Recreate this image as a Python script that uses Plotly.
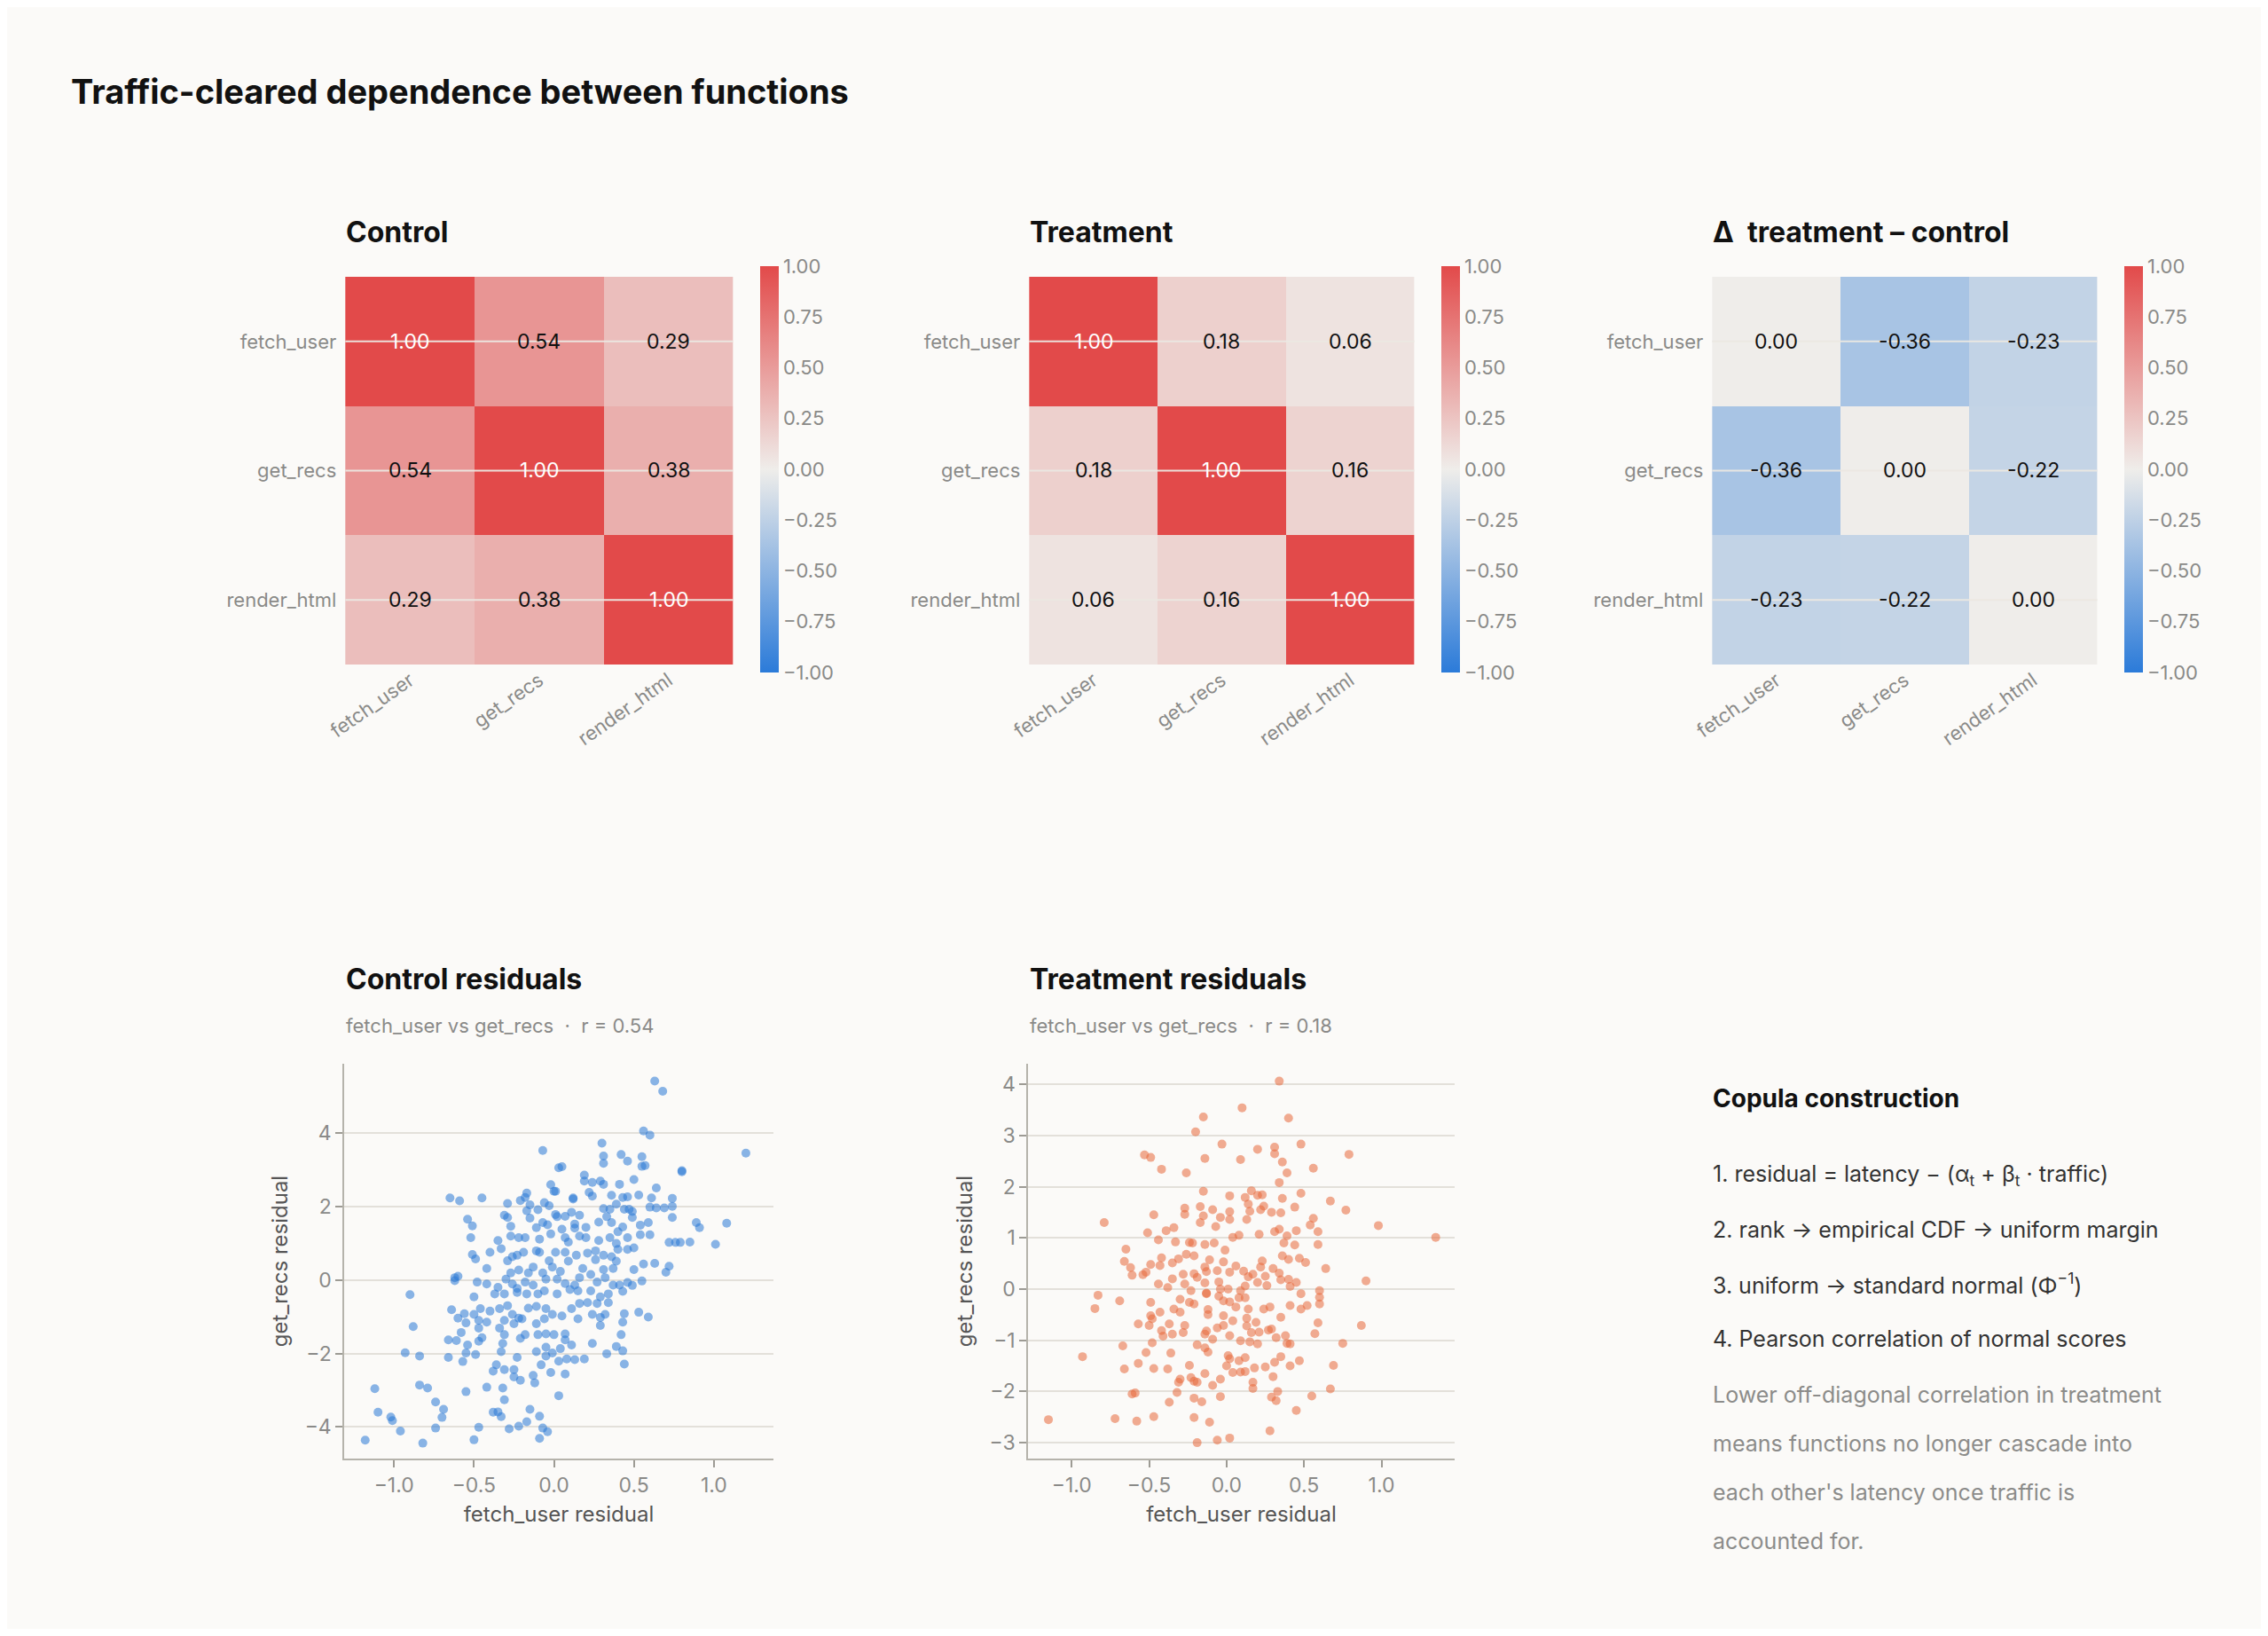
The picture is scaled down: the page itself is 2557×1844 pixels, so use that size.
import plotly.graph_objects as go

# %% data

funcs = ["fetch_user", "get_recs", "render_html"]

corr_control = [
    [1.00, 0.54, 0.29],
    [0.54, 1.00, 0.38],
    [0.29, 0.38, 1.00],
]
corr_treatment = [
    [1.00, 0.18, 0.06],
    [0.18, 1.00, 0.16],
    [0.06, 0.16, 1.00],
]
corr_delta = [
    [0.00, -0.36, -0.23],
    [-0.36, 0.00, -0.22],
    [-0.23, -0.22, 0.00],
]

control_x = [
    0.63, 0.68, 0.56, 0.60, 0.30, -0.07, 1.20, 0.31, 0.31, 0.42, 0.46, 0.55, 0.57, 0.55, 0.03, 0.05,
    0.80, 0.80, 0.50, 0.19, 0.19, 0.24, 0.29, 0.31, 0.41, 0.64, -0.02, 0.00, 0.01, 0.22, 0.24, 0.36,
    0.53, 0.43, 0.46, 0.61, 0.74, -0.65, -0.59, -0.45, -0.17, -0.18, -0.21, -0.15, -0.29, -0.06, -0.03, 0.12,
    0.12, 0.39, 0.60, 0.64, 0.69, 0.74, 0.49, 0.35, 0.31, 0.44, 0.47, 0.49, 0.74, -0.54, -0.51, -0.31,
    -0.29, -0.27, -0.17, -0.15, -0.10, -0.07, -0.04, -0.11, 0.01, 0.02, 0.07, 0.11, 0.16, 0.13, 0.13, 0.20,
    0.05, 0.28, 0.33, 0.36, 0.40, 0.43, 0.46, 0.54, 0.59, 0.54, 0.60, 0.89, 0.91, 1.08, -0.52, -0.35,
    -0.27, -0.22, -0.18, -0.09, -0.02, 0.07, 0.09, 0.16, 0.20, 0.28, 0.35, 0.39, 0.72, 0.76, 0.79, 0.85,
    1.01, -0.33, -0.40, -0.51, -0.49, -0.29, -0.26, -0.23, -0.19, -0.11, -0.09, -0.03, 0.01, 0.07, 0.14, 0.21,
    0.26, 0.31, 0.36, 0.40, 0.46, 0.50, 0.56, 0.63, 0.72, 0.70, 0.50, 0.39, 0.37, 0.31, 0.26, 0.18,
    0.09, 0.04, -0.01, -0.07, -0.13, -0.16, -0.22, -0.27, -0.42, -0.62, -0.60, -0.62, -0.48, -0.42, -0.35, -0.30,
    -0.26, -0.23, -0.18, -0.13, -0.05, 0.02, 0.07, 0.13, 0.16, 0.23, 0.27, 0.32, 0.37, 0.41, 0.46, 0.49,
    0.55, 0.43, 0.34, 0.29, 0.23, 0.15, 0.10, 0.02, -0.06, -0.10, -0.17, -0.23, -0.31, -0.37, -0.50, -0.90,
    -0.64, -0.56, -0.60, -0.46, -0.40, -0.34, -0.29, -0.26, -0.22, -0.16, -0.11, -0.05, -0.01, 0.05, 0.11, 0.16,
    0.21, 0.27, 0.34, 0.24, 0.29, 0.32, 0.44, 0.53, 0.59, 0.43, 0.15, -0.06, -0.11, -0.20, -0.25, -0.31,
    -0.34, -0.42, -0.47, -0.50, -0.55, -0.58, -0.47, -0.88, -0.66, -0.61, -0.54, -0.47, -0.45, -0.31, -0.32, -0.21,
    -0.18, -0.10, -0.05, 0.00, 0.07, 0.07, 0.11, 0.24, 0.29, 0.42, 0.39, 0.43, 0.44, 0.33, 0.19, 0.13,
    0.08, 0.03, -0.01, 0.04, -0.05, -0.11, -0.05, -0.08, -0.02, 0.07, -0.13, -0.12, -0.23, -0.25, -0.25, -0.21,
    -0.31, -0.38, -0.36, -0.33, -0.49, -0.55, -0.57, -0.66, -0.93, -0.84, -1.12, -0.84, -0.79, -0.55, -0.42, -0.32,
    -0.31, 0.03, -0.15, -0.09, -0.38, -0.35, -0.33, -0.74, -0.69, -0.70, -1.02, -1.01, -1.10, -0.96, -0.74, -0.47,
    -0.28, -0.22, -0.17, -0.07, -0.04, -0.09, -0.50, -0.82, -1.18,
]
control_y = [
    5.41, 5.13, 4.05, 3.94, 3.72, 3.52, 3.45, 3.37, 3.17, 3.41, 3.23, 3.35, 3.11, 3.09, 3.05, 3.08,
    2.97, 2.94, 2.73, 2.85, 2.69, 2.65, 2.69, 2.60, 2.60, 2.50, 2.59, 2.41, 2.41, 2.38, 2.28, 2.30,
    2.31, 2.24, 2.26, 2.23, 2.22, 2.23, 2.15, 2.23, 2.36, 2.24, 2.16, 2.04, 2.08, 2.10, 2.02, 2.23,
    2.20, 2.06, 1.98, 1.96, 1.96, 2.00, 1.86, 1.92, 1.94, 1.92, 1.92, 1.70, 1.70, 1.65, 1.47, 1.76,
    1.70, 1.46, 1.88, 1.68, 1.91, 1.56, 1.50, 1.42, 1.78, 1.72, 1.73, 1.84, 1.76, 1.52, 1.41, 1.43,
    1.38, 1.57, 1.72, 1.56, 1.31, 1.44, 1.15, 1.49, 1.56, 1.23, 1.23, 1.56, 1.42, 1.54, 1.15, 1.07,
    1.19, 1.15, 1.15, 1.11, 1.25, 1.15, 1.03, 1.19, 1.15, 1.07, 1.15, 0.99, 1.02, 1.02, 1.02, 1.03,
    0.97, 0.85, 0.75, 0.69, 0.57, 0.52, 0.63, 0.67, 0.75, 0.79, 0.75, 0.52, 0.75, 0.75, 0.67, 0.73,
    0.79, 0.67, 0.63, 0.83, 0.83, 0.87, 0.43, 0.45, 0.37, 0.21, 0.28, 0.51, 0.31, 0.28, 0.55, 0.31,
    0.51, 0.23, 0.35, 0.19, 0.35, 0.19, 0.27, 0.19, 0.31, 0.06, 0.10, -0.02, -0.06, -0.11, -0.20, 0.02,
    -0.11, -0.23, -0.06, -0.14, 0.02, 0.02, -0.10, -0.14, 0.06, 0.15, -0.06, 0.06, -0.14, -0.14, -0.07, -0.15,
    -0.03, -0.31, -0.38, -0.46, -0.30, -0.30, -0.26, -0.38, -0.30, -0.38, -0.38, -0.34, -0.38, -0.38, -0.46, -0.40,
    -0.81, -0.92, -1.04, -0.78, -0.85, -0.78, -0.70, -0.94, -1.04, -0.77, -0.72, -0.78, -0.94, -0.98, -0.78, -0.64,
    -0.62, -0.64, -0.62, -0.94, -1.02, -0.94, -0.92, -0.88, -1.01, -1.15, -1.06, -1.06, -1.19, -1.06, -1.19, -1.10,
    -1.31, -1.15, -1.10, -0.94, -1.17, -1.43, -1.31, -1.27, -1.63, -1.65, -1.77, -1.67, -1.57, -1.49, -1.73, -1.59,
    -1.49, -1.49, -1.47, -1.49, -1.47, -1.63, -1.77, -1.73, -1.24, -1.49, -1.81, -1.93, -2.29, -2.01, -2.15, -2.17,
    -2.15, -2.21, -1.99, -1.87, -1.83, -1.95, -2.07, -2.31, -2.52, -2.56, -2.60, -2.80, -2.11, -2.44, -2.64, -2.73,
    -2.44, -2.48, -2.31, -1.95, -2.03, -1.99, -2.22, -2.11, -1.98, -2.07, -2.96, -2.86, -2.94, -3.04, -2.92, -2.94,
    -3.26, -3.15, -3.52, -3.71, -3.60, -3.59, -3.72, -3.32, -3.52, -3.74, -3.73, -3.83, -3.60, -4.11, -4.03, -4.01,
    -4.05, -3.98, -3.86, -4.03, -4.13, -4.31, -4.35, -4.44, -4.36,
]

treatment_x = [
    0.34, 0.10, -0.15, 0.40, -0.20, -0.03, 0.48, -0.53, -0.49, -0.14, 0.09, 0.20, 0.31, 0.31, 0.79, 0.36,
    0.56, -0.42, -0.26, 0.39, 0.34, -0.15, 0.16, 0.20, 0.23, 0.02, 0.12, 0.36, 0.48, 0.67, 0.77, -0.17,
    -0.27, -0.27, -0.09, 0.02, 0.14, 0.15, 0.22, 0.24, 0.29, 0.35, 0.44, -0.47, -0.79, -0.15, -0.17, -0.04,
    0.02, 0.13, -0.07, 0.56, 0.54, 0.98, 1.35, -0.34, -0.39, -0.51, -0.44, -0.33, -0.24, -0.22, -0.14, -0.08,
    -0.01, 0.04, 0.08, 0.21, 0.31, 0.34, 0.39, 0.45, 0.59, 0.59, 0.37, 0.44, -0.65, -0.66, -0.62, -0.61,
    -0.54, -0.52, -0.49, -0.43, -0.42, -0.35, -0.31, -0.26, -0.21, -0.21, -0.19, -0.14, -0.11, -0.13, -0.06, -0.02,
    0.02, 0.06, 0.11, 0.14, 0.17, 0.23, 0.22, 0.30, 0.34, 0.36, 0.40, 0.47, 0.51, 0.64, 0.90, -0.44,
    -0.38, -0.35, -0.28, -0.27, -0.23, -0.14, -0.13, -0.05, -0.04, 0.01, 0.09, 0.12, 0.20, 0.26, 0.25, 0.35,
    0.40, 0.41, 0.45, 0.48, 0.60, 0.60, 0.60, -0.83, -0.69, -0.85, -0.49, -0.30, -0.24, -0.21, -0.13, -0.05,
    -0.02, 0.02, 0.08, 0.12, 0.06, 0.14, 0.24, 0.28, 0.41, 0.48, 0.52, -0.49, -0.48, -0.43, -0.34, -0.30,
    -0.12, -0.12, -0.02, 0.04, 0.13, 0.19, 0.35, 0.59, 0.87, -0.57, -0.50, -0.42, -0.41, -0.37, -0.35, -0.28,
    -0.27, -0.13, -0.14, -0.09, -0.06, -0.02, 0.02, 0.13, 0.16, 0.21, 0.27, 0.29, 0.32, 0.38, 0.39, 0.41,
    0.57, 0.75, -0.67, -0.48, -0.19, -0.14, -0.12, 0.09, 0.15, 0.20, -0.93, -0.52, -0.36, -0.57, -0.66, -0.47,
    -0.38, -0.24, -0.14, 0.01, 0.02, 0.00, 0.08, 0.12, 0.04, 0.09, 0.12, 0.18, 0.25, 0.31, 0.35, 0.41,
    0.47, 0.69, 0.30, -0.23, -0.30, -0.31, -0.21, -0.19, -0.09, -0.04, 0.17, 0.17, 0.33, 0.67, -0.61, -0.59,
    -0.32, -0.21, -0.16, -0.04, -0.37, 0.29, 0.32, 0.55, 0.45, -1.15, -0.72, -0.58, -0.47, -0.21, -0.11, 0.28,
    -0.19, -0.06, 0.02,
]
treatment_y = [
    4.06, 3.54, 3.36, 3.34, 3.07, 2.83, 2.83, 2.62, 2.57, 2.55, 2.53, 2.73, 2.77, 2.64, 2.63, 2.48,
    2.36, 2.34, 2.27, 2.27, 2.08, 1.91, 1.92, 1.83, 1.84, 1.82, 1.79, 1.77, 1.87, 1.72, 1.54, 1.61,
    1.58, 1.46, 1.55, 1.51, 1.66, 1.52, 1.55, 1.62, 1.50, 1.49, 1.60, 1.45, 1.30, 1.43, 1.30, 1.40,
    1.36, 1.36, 1.22, 1.38, 1.25, 1.24, 1.01, 1.20, 1.14, 1.10, 0.96, 0.92, 0.91, 0.90, 0.87, 0.90,
    0.76, 1.01, 1.05, 1.07, 1.12, 1.17, 1.04, 1.14, 1.12, 0.87, 0.90, 0.86, 0.78, 0.54, 0.42, 0.27,
    0.28, 0.33, 0.48, 0.46, 0.61, 0.51, 0.59, 0.68, 0.65, 0.30, 0.23, 0.43, 0.57, 0.34, 0.36, 0.53,
    0.33, 0.45, 0.35, 0.24, 0.29, 0.55, 0.43, 0.40, 0.31, 0.65, 0.58, 0.60, 0.52, 0.40, 0.16, 0.10,
    0.03, 0.20, 0.29, 0.10, -0.03, 0.12, -0.09, 0.14, 0.00, 0.00, -0.03, 0.06, 0.13, 0.07, 0.25, 0.18,
    0.19, 0.05, 0.13, -0.09, -0.03, -0.16, -0.29, -0.12, -0.23, -0.38, -0.26, -0.20, -0.26, -0.29, -0.08, -0.14,
    -0.23, -0.25, -0.17, -0.17, -0.35, -0.39, -0.39, -0.35, -0.32, -0.39, -0.32, -0.52, -0.58, -0.45, -0.39, -0.45,
    -0.40, -0.50, -0.52, -0.62, -0.57, -0.65, -0.55, -0.66, -0.71, -0.68, -0.71, -0.81, -0.92, -0.68, -0.88, -0.85,
    -0.71, -0.82, -0.88, -0.98, -0.76, -0.71, -0.91, -0.72, -0.85, -0.84, -0.80, -0.78, -0.95, -0.91, -1.06, -1.07,
    -0.87, -1.06, -1.11, -1.05, -1.09, -1.15, -1.23, -1.01, -1.03, -1.07, -1.32, -1.24, -1.25, -1.45, -1.56, -1.55,
    -1.56, -1.49, -1.65, -1.30, -1.36, -1.50, -1.40, -1.34, -1.63, -1.62, -1.61, -1.54, -1.52, -1.43, -1.32, -1.50,
    -1.40, -1.49, -1.71, -1.73, -1.76, -1.82, -1.80, -1.82, -1.88, -1.76, -1.82, -1.94, -2.00, -1.95, -2.05, -2.03,
    -2.02, -2.13, -2.20, -2.10, -2.21, -2.11, -2.18, -2.09, -2.37, -2.55, -2.53, -2.58, -2.49, -2.51, -2.60, -2.77,
    -3.00, -2.95, -2.91,
]

x_ticks = [-1.0, -0.5, 0.0, 0.5, 1.0]
cbar_ticks = [-1.0, -0.75, -0.5, -0.25, 0.0, 0.25, 0.5, 0.75, 1.0]

steps = [
    "1. residual = latency − (α<sub>t</sub> + β<sub>t</sub> · traffic)",
    "2. rank → empirical CDF → uniform margin",
    "3. uniform → standard normal (Φ<sup>−1</sup>)",
    "4. Pearson correlation of normal scores",
]
note_lines = [
    "Lower off-diagonal correlation in treatment",
    "means functions no longer cascade into",
    "each other's latency once traffic is",
    "accounted for.",
]

# %% style

# the page body keeps an 8px margin, so the figure is a bit smaller than the window
PAD = 8
W, H = 2557 - 2 * PAD, 1844 - 2 * PAD
BG = "#fbfaf8"
FONT = "Inter, Roboto, sans-serif"
GRAY = "#8a8a88"
DIVERGE = [[0.0, "#2b7bd9"], [0.5, "#efedea"], [1.0, "#e24a4a"]]


def px_x(v):
    # small horizontal correction measured from the rendered page
    v = 1.011 * v - 25
    return (v - PAD) / W


def px_y(v):
    return 1 - (v - PAD) / H


fig = go.Figure()

# %% heatmaps

heat_panels = [
    ("Control", corr_control, 391, 829),
    ("Treatment", corr_treatment, 1160, 1595),
    ("Δ  treatment – control", corr_delta, 1928, 2363),
]
annotations = []
shapes = []

for i, (title, z, x0, x1) in enumerate(heat_panels):
    n = i + 1
    xa, ya = f"x{n}", f"y{n}"
    fig.add_trace(
        go.Heatmap(
            z=z, x=funcs, y=funcs, xaxis=xa, yaxis=ya,
            zmin=-1, zmax=1, colorscale=DIVERGE, hoverinfo="skip",
            colorbar=dict(
                x=px_x(x1 + 19), xanchor="left", y=px_y(529), yanchor="middle",
                lenmode="pixels", len=478, thickness=21, outlinewidth=0,
                tickvals=cbar_ticks, tickformat=".2f", ticks="",
                tickfont=dict(size=22, color=GRAY, family=FONT),
            ),
        )
    )
    lay = "" if n == 1 else str(n)
    fig.layout[f"xaxis{lay}"] = dict(
        domain=[px_x(x0), px_x(x1)], anchor=ya, tickangle=-35, showgrid=False,
        tickfont=dict(size=22, color=GRAY), ticks="", showline=False,
    )
    fig.layout[f"yaxis{lay}"] = dict(
        domain=[px_y(749), px_y(312)], anchor=xa, autorange="reversed", showgrid=False,
        tickfont=dict(size=22, color=GRAY), ticks="", ticklabelstandoff=8,
    )
    for r, name in enumerate(funcs):
        shapes.append(dict(
            type="line", xref=xa, yref=ya, x0=-0.5, x1=2.5, y0=name, y1=name,
            line=dict(color="rgba(235,232,226,0.95)", width=2), layer="above",
        ))
        for c, col in enumerate(funcs):
            v = z[r][c]
            annotations.append(dict(
                x=col, y=name, xref=xa, yref=ya, text=f"{v:.2f}", showarrow=False,
                font=dict(size=23, color="white" if v >= 0.99 else "#111"),
            ))
    annotations.append(dict(
        x=px_x(x0), y=px_y(261), xref="paper", yref="paper", xanchor="left", yanchor="middle",
        text=f"<b>{title}</b>", showarrow=False, font=dict(size=32, color="#111"),
    ))

# %% scatters

scatter_panels = [
    ("Control residuals", "r = 0.54", control_x, control_y, "#2a78d6",
     391, 873, [-1.31, 1.37], [-4.86, 5.88], [-4, -2, 0, 2, 4]),
    ("Treatment residuals", "r = 0.18", treatment_x, treatment_y, "#e8673a",
     1160, 1639, [-1.28, 1.47], [-3.31, 4.4], [-3, -2, -1, 0, 1, 2, 3, 4]),
]

for j, (title, rtxt, xs, ys, color, x0, x1, xr, yr, yt) in enumerate(scatter_panels):
    n = j + 4
    xa, ya = f"x{n}", f"y{n}"
    fig.add_trace(
        go.Scatter(
            x=xs, y=ys, xaxis=xa, yaxis=ya, mode="markers", hoverinfo="skip",
            marker=dict(size=10, color=color, opacity=0.55, line=dict(width=0)),
            showlegend=False,
        )
    )
    axis_common = dict(
        showline=True, linecolor="#b5b3ab", linewidth=2, ticks="outside", ticklen=8,
        tickcolor="#9d9b94", tickwidth=2, zeroline=False,
        tickfont=dict(size=23, color=GRAY),
    )
    fig.layout[f"xaxis{n}"] = dict(
        domain=[px_x(x0), px_x(x1)], anchor=ya, range=xr, tickvals=x_ticks, tickformat=".1f",
        showgrid=False, title=dict(text="fetch_user residual", font=dict(size=24, color="#555"), standoff=12),
        **axis_common,
    )
    fig.layout[f"yaxis{n}"] = dict(
        domain=[px_y(1644), px_y(1199)], anchor=xa, range=yr, tickvals=yt,
        showgrid=True, gridcolor="#e3e0da", gridwidth=2,
        title=dict(text="get_recs residual", font=dict(size=24, color="#555"), standoff=12),
        **axis_common,
    )
    annotations.append(dict(
        x=px_x(x0), y=px_y(1103), xref="paper", yref="paper", xanchor="left", yanchor="middle",
        text=f"<b>{title}</b>", showarrow=False, font=dict(size=32, color="#111"),
    ))
    annotations.append(dict(
        x=px_x(x0), y=px_y(1156), xref="paper", yref="paper", xanchor="left", yanchor="middle",
        text=f"fetch_user vs get_recs  ·  {rtxt}", showarrow=False, font=dict(size=22, color=GRAY),
    ))

# %% text panel

annotations.append(dict(
    x=px_x(1928), y=px_y(1238), xref="paper", yref="paper", xanchor="left", yanchor="middle",
    text="<b>Copula construction</b>", showarrow=False, font=dict(size=28, color="#111"),
))
for k, line in enumerate(steps):
    annotations.append(dict(
        x=px_x(1928), y=px_y(1324 + 61.5 * k), xref="paper", yref="paper", xanchor="left",
        yanchor="middle", text=line, showarrow=False, font=dict(size=25, color="#333"),
    ))
for k, line in enumerate(note_lines):
    annotations.append(dict(
        x=px_x(1928), y=px_y(1572 + 55 * k), xref="paper", yref="paper", xanchor="left",
        yanchor="middle", text=line, showarrow=False, font=dict(size=25, color="#8c8c8a"),
    ))

annotations.append(dict(
    x=px_x(82), y=px_y(103), xref="paper", yref="paper", xanchor="left", yanchor="middle",
    text="<b>Traffic-cleared dependence between functions</b>", showarrow=False,
    font=dict(size=38, color="#111"),
))

fig.update_layout(
    width=W, height=H, autosize=False,
    margin=dict(l=0, r=0, t=0, b=0),
    paper_bgcolor=BG, plot_bgcolor=BG,
    font=dict(family=FONT, color="#333"),
    annotations=annotations, shapes=shapes, showlegend=False,
)

fig.write_html("out.html")
